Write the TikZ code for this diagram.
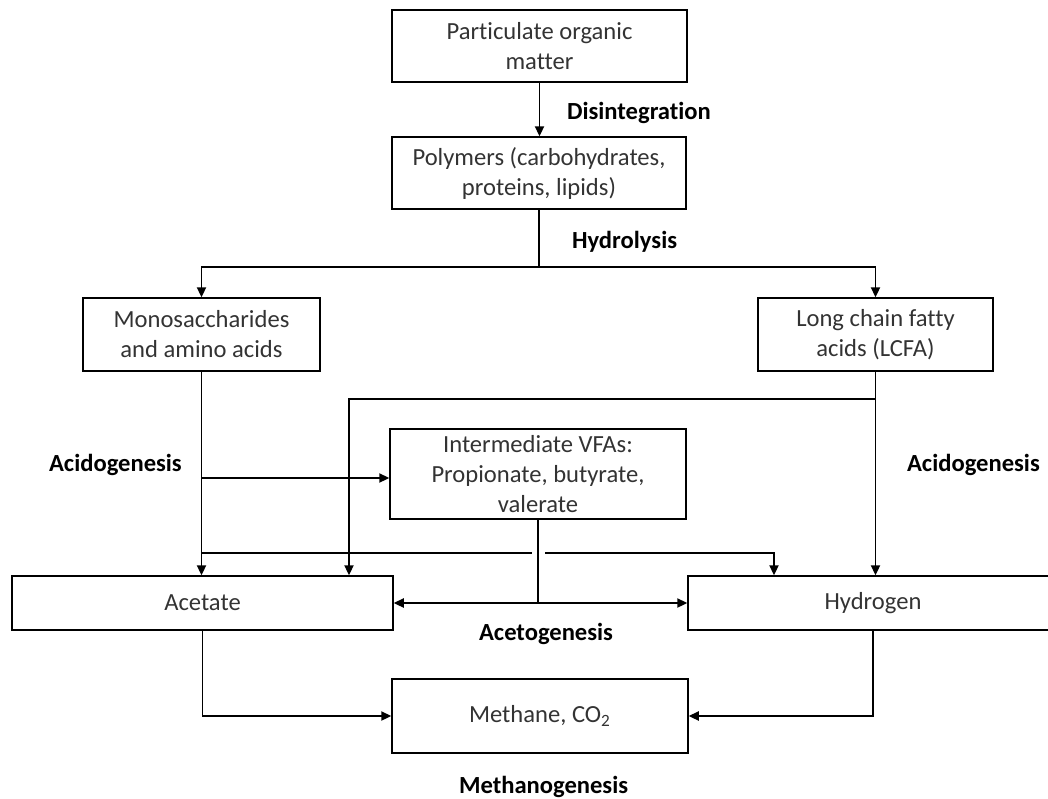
\documentclass[tikz,border=0pt]{standalone}
\usepackage{fontspec}
\setmainfont{Carlito}[Ligatures=NoCommon]
\usetikzlibrary{arrows.meta}

\begin{document}
\begin{tikzpicture}[x=.5pt,y=-.5pt,
  box/.style={draw,line width=.75pt,align=center,inner sep=0pt,text=black!80,
    font=\fontsize{12.3}{15}\selectfont},
  link/.style={line width=.75pt},
  flow/.style={link,-{Triangle[length=5pt,width=4.6pt]}},
  stage/.style={anchor=west,font=\fontsize{12.3}{15}\selectfont\bfseries}]
  \clip (0,0) rectangle (1048,798);

  \node[box,minimum width=147.5pt,minimum height=36pt] (part) at (539.5,46) {Particulate organic\\matter};
  \node[box,minimum width=147pt,minimum height=36pt] (poly) at (539,173) {Polymers (carbohydrates,\\proteins, lipids)};
  \node[box,minimum width=118.5pt,minimum height=36.5pt] (mono) at (201.5,334.5) {Monosaccharides\\and amino acids};
  \node[box,minimum width=117.5pt,minimum height=36.5pt] (lcfa) at (875.5,334.5) {Long chain fatty\\acids (LCFA)};
  \node[box,minimum width=148pt,minimum height=45pt] (vfa) at (538,474) {Intermediate VFAs:\\Propionate, butyrate,\\valerate};
  \node[box,minimum width=190.5pt,minimum height=27pt] (acet) at (202.5,603) {Acetate};
  \node[box,minimum width=185pt,minimum height=27pt] (hydr) at (873,603) {Hydrogen};
  \node[box,minimum width=148pt,minimum height=37pt] (meth) at (540,716) {Methane, CO\textsubscript{2}};

  \node[stage] (dis) at (560,113) {Disintegration};
  \node[stage] (hydro) at (565,242) {Hydrolysis};
  \node[stage] (acidl) at (42,465) {Acidogenesis};
  \node[stage] (acidr) at (900,465) {Acidogenesis};
  \node[stage] (aceto) at (472,634) {Acetogenesis};
  \node[stage] (metha) at (452,787) {Methanogenesis};

  % hydrolysis split
  \draw[flow] (part.south) -- (part.south |- poly.north);
  \coordinate (hyd) at (539,267);
  \draw[link] (poly.south) -- (hyd);
  \draw[flow] (hyd) -| (mono.north);
  \draw[flow] (hyd) -| (lcfa.north);

  % acidogenesis
  \coordinate (mv) at (202,478);
  \coordinate (lc) at (875.5,399);
  \coordinate (lx) at (349,399);
  \draw[flow] (mono.south) -- (mono.south |- acet.north);
  \draw[flow] (mv) -- (mv -| vfa.west);
  \draw[flow] (lcfa.south) -- (lcfa.south |- hydr.north);
  \draw[flow] (lc) -- (lx) -- (lx |- acet.north);

  % acetogenesis
  \coordinate (vs) at (vfa.south |- acet.east);
  \draw[link] (vfa.south) -- (vs);
  \draw[flow] (vs) -- (acet.east);
  \draw[flow] (vs) -- (hydr.west);
  \coordinate (g1) at (202,553);
  \coordinate (g2) at (532,553);
  \coordinate (g3) at (545,553);
  \coordinate (hx) at (774,553);
  \draw[link] (g1) -- (g2);
  \draw[flow] (g3) -- (hx) -- (hx |- hydr.north);

  % methanogenesis
  \draw[flow] (acet.south) |- (meth.west);
  \draw[flow] (hydr.south) |- (meth.east);
\end{tikzpicture}
\end{document}
